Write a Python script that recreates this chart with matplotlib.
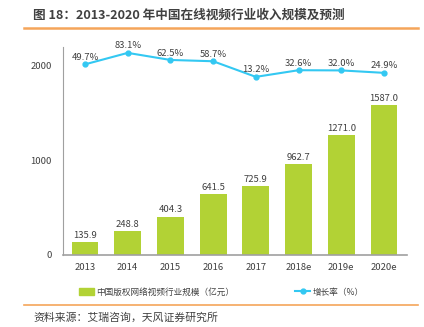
import matplotlib.pyplot as plt
from matplotlib.lines import Line2D
from matplotlib.patches import Patch

plt.rcParams['font.family'] = ['Noto Sans CJK SC', 'DejaVu Sans']

years = ['2013', '2014', '2015', '2016', '2017', '2018e', '2019e', '2020e']
revenue = [135.9, 248.8, 404.3, 641.5, 725.9, 962.7, 1271.0, 1587.0]
growth = [49.7, 83.1, 62.5, 58.7, 13.2, 32.6, 32.0, 24.9]

bar_color = '#b2d235'
line_color = '#33c8f2'
orange = '#f5a55a'
text_color = '#404040'

fig = plt.figure(figsize=(4.24, 3.27), dpi=100)
ax = fig.add_axes([0.1486, 0.2202, 0.8114, 0.6358])
x = list(range(len(years)))

ax.bar(x, revenue, width=0.63, color=bar_color, zorder=2)
for xi, v in zip(x, revenue):
    ax.text(xi, v + 25, f'{v:.1f}', ha='center', va='bottom', fontsize=6.8, color=text_color)

ax.set_xlim(-0.515, 7.54)
ax.set_ylim(0, 2200)
ax.set_yticks([0, 1000, 2000])
ax.set_xticks(x)
ax.set_xticklabels(years)
ax.tick_params(length=0, labelsize=6.8, colors=text_color)
ax.tick_params(axis='y', pad=8)
ax.tick_params(axis='x', pad=6)
for s in ['top', 'right']:
    ax.spines[s].set_visible(False)
ax.spines['left'].set_color('#a0a0a0')
ax.spines['bottom'].set_color('#a0a0a0')
ax.spines['bottom'].set_linewidth(1.2)

# growth rate on a hidden secondary axis
ax2 = ax.twinx()
ax2.plot(x, growth, color=line_color, lw=1.5, marker='o', markersize=3.5, zorder=3)
for xi, g in zip(x, growth):
    ax2.text(xi, g + 7, f'{g:.1f}%', ha='center', va='bottom', fontsize=6.8, color=text_color)
ax2.set_ylim(-506, 100)
ax2.set_yticks([])
for s in ['top', 'right', 'left', 'bottom']:
    ax2.spines[s].set_visible(False)

handles = [Patch(color=bar_color),
           Line2D([0], [0], color=line_color, lw=1.5, marker='o', markersize=3.5)]
labels = ['中国版权网络视频行业规模（亿元）', '增长率（%）']
fig.legend(handles, labels, loc='center', bbox_to_anchor=(0.522, 0.107), ncol=2,
           frameon=False, fontsize=6.2, columnspacing=7.0, handlelength=1.8,
           handleheight=0.7, handletextpad=0.3, labelcolor=text_color)

fig.text(0.078, 0.953, '图 18：2013-2020 年中国在线视频行业收入规模及预测', fontsize=9.1,
         fontweight='bold', color=text_color, va='center', ha='left')
fig.add_artist(Line2D([0.057, 0.985], [0.914, 0.914], color=orange, lw=1.8))
fig.add_artist(Line2D([0.057, 0.985], [0.067, 0.067], color=orange, lw=1.2))
fig.text(0.078, 0.030, '资料来源：艾瑞咨询，天风证券研究所', fontsize=7.8, color=text_color,
         va='center', ha='left')

fig.savefig('out.png', dpi=100)
